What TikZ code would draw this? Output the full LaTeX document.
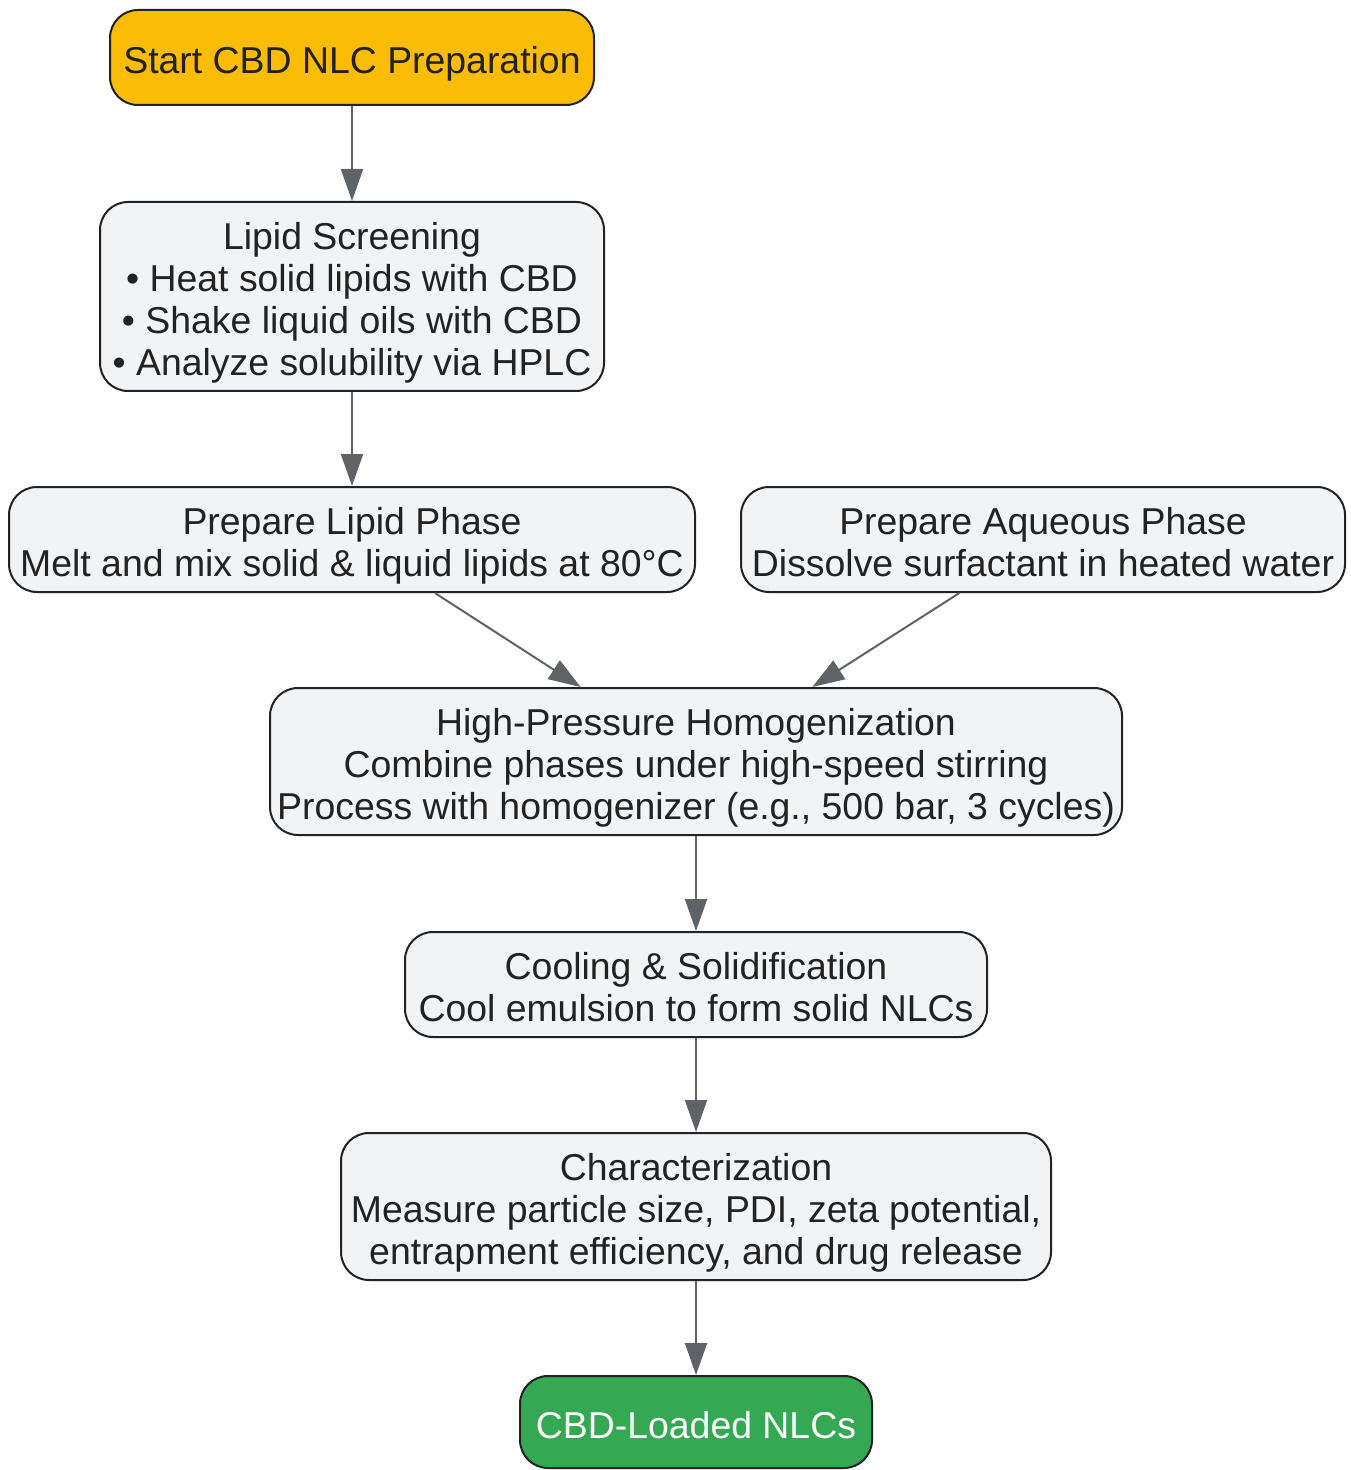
\documentclass[tikz,border=0pt]{standalone}
\usepackage{fontspec}
\setmainfont{Liberation Sans}
\usetikzlibrary{arrows.meta}
\definecolor{startfill}{HTML}{FBBC05}
\definecolor{boxfill}{HTML}{F1F3F5}
\definecolor{endfill}{HTML}{34A853}
\definecolor{edgecol}{HTML}{222222}
\definecolor{arrowcol}{HTML}{5F6368}
\definecolor{textcol}{HTML}{222222}
\newcommand{\lowtext}[1]{\raisebox{-3.8pt}[\height][\depth]{\begin{tabular}{@{}c@{}}#1\end{tabular}}}
\tikzset{
  stepbox/.style={draw=edgecol, line width=1pt, rounded corners=14pt, fill=boxfill,
    text=textcol, inner sep=0pt,
    font=\fontsize{18.7pt}{21pt}\selectfont},
  startbox/.style={stepbox, fill=startfill},
  endbox/.style={stepbox, fill=endfill, text=white},
  flow/.style={draw=arrowcol, line width=1pt, -{Triangle[length=16pt,width=11pt]}}
}
\begin{document}
\begin{tikzpicture}[x=0.5pt,y=-0.5pt]
\useasboundingbox (0,0) rectangle (1350,1470);
\node[startbox, minimum width=242pt, minimum height=47.5pt] (start) at (352,57.5) {\lowtext{Start CBD NLC Preparation}};
\node[stepbox, minimum width=252pt, minimum height=94.5pt] (screen) at (352,296.5) {\lowtext{Lipid Screening\\ • Heat solid lipids with CBD\\ • Shake liquid oils with CBD\\ • Analyze solubility via HPLC}};
\node[stepbox, minimum width=343pt, minimum height=52.5pt] (lipid) at (352,539.5) {\lowtext{Prepare Lipid Phase\\ Melt and mix solid \& liquid lipids at 80°C}};
\node[stepbox, minimum width=302pt, minimum height=52.5pt] (aq) at (1043,539.5) {\lowtext{Prepare Aqueous Phase\\ Dissolve surfactant in heated water}};
\node[stepbox, minimum width=426pt, minimum height=73.5pt] (hph) at (696,761.5) {\lowtext{High-Pressure Homogenization\\ Combine phases under high-speed stirring\\ Process with homogenizer (e.g., 500 bar, 3 cycles)}};
\node[stepbox, minimum width=291pt, minimum height=52.5pt] (cool) at (696,984.5) {\lowtext{Cooling \& Solidification\\ Cool emulsion to form solid NLCs}};
\node[stepbox, minimum width=355pt, minimum height=73.5pt] (char) at (696,1206.5) {\lowtext{Characterization\\ Measure particle size, PDI, zeta potential,\\ entrapment efficiency, and drug release}};
\node[endbox, minimum width=176pt, minimum height=46pt] (end) at (696,1422) {\lowtext{CBD-Loaded NLCs}};
\draw[flow] (start) -- (screen);
\draw[flow] (screen) -- (lipid);
\draw[flow] (lipid) -- (hph);
\draw[flow] (aq) -- (hph);
\draw[flow] (hph) -- (cool);
\draw[flow] (cool) -- (char);
\draw[flow] (char) -- (end);
\end{tikzpicture}
\end{document}
